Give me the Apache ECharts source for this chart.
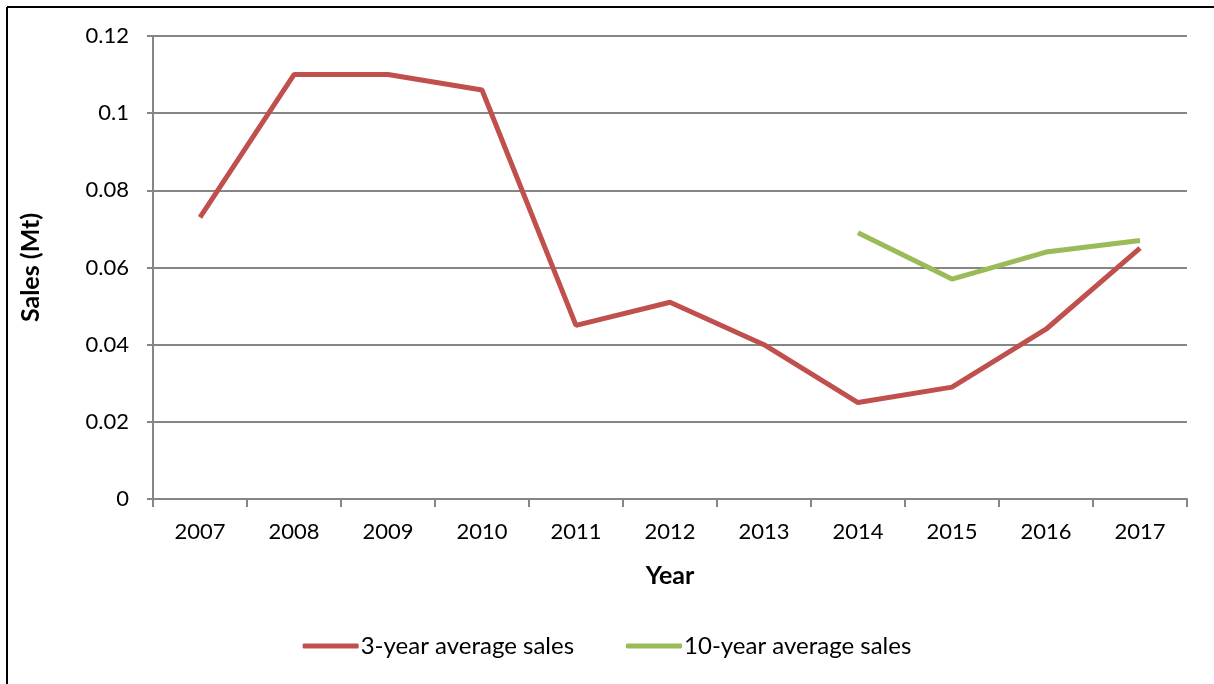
<!DOCTYPE html>
<html>
<head>
<meta charset="utf-8">
<script src="https://cdn.jsdelivr.net/npm/echarts@6/dist/echarts.min.js"></script>
<style>
  html, body { margin: 0; padding: 0; background: #fff; }
  #chart { width: 1214px; height: 684px; }
</style>
</head>
<body>
<div id="chart"></div>
<script>
const years = ['2007', '2008', '2009', '2010', '2011', '2012', '2013', '2014', '2015', '2016', '2017']
const threeYear = [0.073, 0.11, 0.11, 0.106, 0.045, 0.051, 0.04, 0.025, 0.029, 0.044, 0.065]
const tenYear = [null, null, null, null, null, null, null, 0.069, 0.057, 0.064, 0.067]

const font = 'Lato, "Open Sans", sans-serif'
const gridColor = '#868686'

const myChart = echarts.init(document.getElementById('chart'))
const option = {
  animation: false,
  textStyle: { fontFamily: font },
  // outer frame (left and top edges only visible)
  graphic: [
    { type: 'line', shape: { x1: 7, y1: 7, x2: 1214, y2: 7 }, style: { stroke: '#000', lineWidth: 2 } },
    { type: 'line', shape: { x1: 7, y1: 7, x2: 7, y2: 684 }, style: { stroke: '#000', lineWidth: 2 } }
  ],
  grid: { left: 153, right: 27, top: 36, bottom: 185 },
  legend: {
    bottom: 21,
    left: 'center',
    itemWidth: 56,
    itemHeight: 5,
    itemGap: 52,
    icon: 'roundRect',
    textStyle: { fontFamily: font, fontSize: 24, color: '#000', padding: [0, 0, 0, -3] },
    data: ['3-year average sales', '10-year average sales']
  },
  xAxis: {
    type: 'category',
    data: years,
    boundaryGap: true,
    name: 'Year',
    nameLocation: 'middle',
    nameGap: 64,
    nameTextStyle: { fontFamily: font, fontSize: 25, fontWeight: 'bold', color: '#000' },
    axisLine: { lineStyle: { color: gridColor, width: 2 } },
    axisTick: { show: true, length: 8, lineStyle: { color: gridColor, width: 2 } },
    axisLabel: { fontFamily: font, fontSize: 22, color: '#000', margin: 22 }
  },
  yAxis: {
    type: 'value',
    min: 0,
    max: 0.12,
    interval: 0.02,
    name: 'Sales (Mt)',
    nameLocation: 'middle',
    nameGap: 110,
    nameTextStyle: { fontFamily: font, fontSize: 25, fontWeight: 'bold', color: '#000' },
    axisLine: { show: true, lineStyle: { color: gridColor, width: 2 } },
    axisTick: { show: true, length: 6, lineStyle: { color: gridColor, width: 2 } },
    axisLabel: { fontFamily: font, fontSize: 22, color: '#000', margin: 24 },
    splitLine: { lineStyle: { color: gridColor, width: 2 } }
  },
  series: [
    {
      name: '3-year average sales',
      type: 'line',
      data: threeYear,
      symbol: 'none',
      color: '#C0504D',
      lineStyle: { width: 5, color: '#C0504D' }
    },
    {
      name: '10-year average sales',
      type: 'line',
      data: tenYear,
      symbol: 'none',
      color: '#9BBB59',
      lineStyle: { width: 5, color: '#9BBB59' }
    }
  ]
}
myChart.setOption(option)
</script>
</body>
</html>
